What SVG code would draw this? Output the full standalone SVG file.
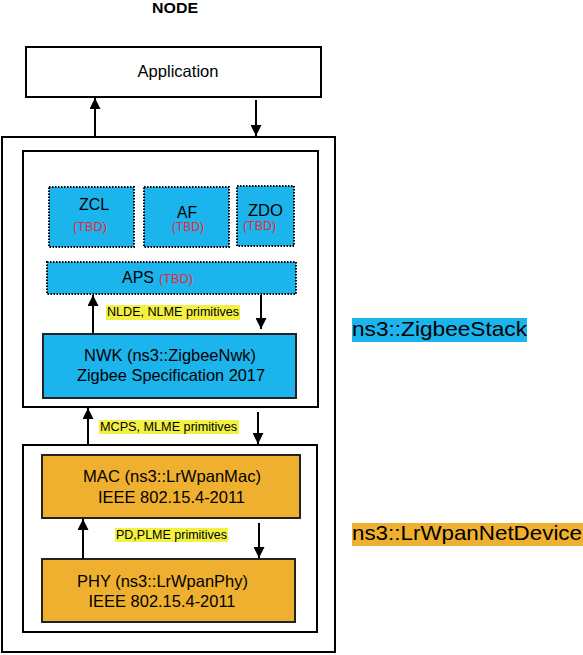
<svg xmlns="http://www.w3.org/2000/svg" width="583" height="655" viewBox="0 0 583 655">
<defs>
<marker id="ah" viewBox="0 0 10 10" refX="10" refY="5" markerWidth="11" markerHeight="11" markerUnits="userSpaceOnUse" orient="auto">
<path d="M0,0 L10,5 L0,10 z" fill="#000"/>
</marker>
</defs>
<style>
text{font-family:"Liberation Sans",Arial,sans-serif;fill:#000}
.frame{fill:#fff;stroke:#000;stroke-width:2}
.dot{fill:#1cb4ec;stroke:#000;stroke-width:2;stroke-dasharray:1.5 1.5}
.blue{fill:#1cb4ec;stroke:#222;stroke-width:2}
.orange{fill:#efb02f;stroke:#222;stroke-width:2}
.hl{fill:#f2f040}
.tbd{fill:#e8283a;font-size:12.5px}
.big{font-size:16.5px}
.lbl{font-size:12.5px}
.side{font-size:21px}
.conn line{stroke:#000;stroke-width:2;marker-end:url(#ah)}
</style>
<text x="175" y="13" text-anchor="middle" font-weight="bold" font-size="14" textLength="46" lengthAdjust="spacingAndGlyphs">NODE</text>
<g id="application">
<rect class="frame" x="26" y="47" width="295" height="50"/>
<text x="178" y="77" text-anchor="middle" font-size="16.5" textLength="81" lengthAdjust="spacingAndGlyphs">Application</text>
</g>
<g id="node">
<rect class="frame" x="2" y="137" width="333" height="515"/>
</g>
<g id="zigbee-stack">
<rect class="frame" x="23" y="151" width="295" height="256"/>
</g>
<g id="zcl">
<rect class="dot" x="49" y="187" width="85" height="60"/>
<text class="big" x="94" y="210" text-anchor="middle" textLength="30" lengthAdjust="spacingAndGlyphs">ZCL</text>
<text class="tbd" x="90" y="231" text-anchor="middle" textLength="34" lengthAdjust="spacingAndGlyphs">(TBD)</text>
</g>
<g id="af">
<rect class="dot" x="144" y="187" width="85" height="60"/>
<text class="big" x="187" y="218" text-anchor="middle" textLength="20" lengthAdjust="spacingAndGlyphs">AF</text>
<text class="tbd" x="188" y="231" text-anchor="middle" textLength="32" lengthAdjust="spacingAndGlyphs">(TBD)</text>
</g>
<g id="zdo">
<rect class="dot" x="237" y="186" width="57" height="60"/>
<text class="big" x="265.5" y="216" text-anchor="middle" textLength="35" lengthAdjust="spacingAndGlyphs">ZDO</text>
<text class="tbd" x="259.5" y="230" text-anchor="middle" textLength="33" lengthAdjust="spacingAndGlyphs">(TBD)</text>
</g>
<g id="aps">
<rect class="dot" x="47" y="262" width="249" height="32"/>
<text class="big" x="122" y="283" textLength="32" lengthAdjust="spacingAndGlyphs">APS</text>
<text class="tbd" x="159" y="283" textLength="34" lengthAdjust="spacingAndGlyphs">(TBD)</text>
</g>
<g id="nwk">
<rect class="blue" x="43" y="334" width="253" height="64"/>
<text class="big" x="170" y="361" text-anchor="middle" textLength="172" lengthAdjust="spacingAndGlyphs">NWK (ns3::ZigbeeNwk)</text>
<text class="big" x="171" y="381" text-anchor="middle" textLength="188" lengthAdjust="spacingAndGlyphs">Zigbee Specification 2017</text>
</g>
<g id="lrwpan-netdevice">
<rect class="frame" x="23" y="445" width="294" height="187"/>
</g>
<g id="mac">
<rect class="orange" x="42" y="455" width="258" height="63"/>
<text class="big" x="172" y="482" text-anchor="middle" textLength="178" lengthAdjust="spacingAndGlyphs">MAC (ns3::LrWpanMac)</text>
<text class="big" x="171.5" y="503" text-anchor="middle" textLength="147" lengthAdjust="spacingAndGlyphs">IEEE 802.15.4-2011</text>
</g>
<g id="phy">
<rect class="orange" x="42" y="559" width="253" height="63"/>
<text class="big" x="162.5" y="587" text-anchor="middle" textLength="171" lengthAdjust="spacingAndGlyphs">PHY (ns3::LrWpanPhy)</text>
<text class="big" x="162" y="607" text-anchor="middle" textLength="147" lengthAdjust="spacingAndGlyphs">IEEE 802.15.4-2011</text>
</g>
<g id="labels">
<rect class="hl" x="106" y="305" width="134" height="15"/>
<text class="lbl" x="107" y="316" textLength="132" lengthAdjust="spacingAndGlyphs">NLDE, NLME primitives</text>
<rect class="hl" x="99" y="420" width="140" height="14"/>
<text class="lbl" x="100" y="431" textLength="137" lengthAdjust="spacingAndGlyphs">MCPS, MLME primitives</text>
<rect class="hl" x="115" y="528" width="113" height="14"/>
<text class="lbl" x="116" y="539" textLength="111" lengthAdjust="spacingAndGlyphs">PD,PLME primitives</text>
<rect fill="#1cb4ec" x="352" y="318" width="175" height="24"/>
<text class="side" x="352" y="336" textLength="175" lengthAdjust="spacingAndGlyphs">ns3::ZigbeeStack</text>
<rect fill="#efb02f" x="352" y="523" width="231" height="23"/>
<text class="side" x="352" y="540" textLength="230" lengthAdjust="spacingAndGlyphs">ns3::LrWpanNetDevice</text>
</g>
<g id="connectors" class="conn">
<line x1="95" y1="137" x2="95" y2="98"/>
<line x1="256" y1="100" x2="256" y2="136"/>
<line x1="93" y1="334" x2="93" y2="295"/>
<line x1="261" y1="295" x2="261" y2="329"/>
<line x1="88" y1="445" x2="88" y2="408"/>
<line x1="258" y1="412" x2="258" y2="444"/>
<line x1="83" y1="559" x2="83" y2="519"/>
<line x1="259" y1="523" x2="259" y2="558"/>
</g>
</svg>
